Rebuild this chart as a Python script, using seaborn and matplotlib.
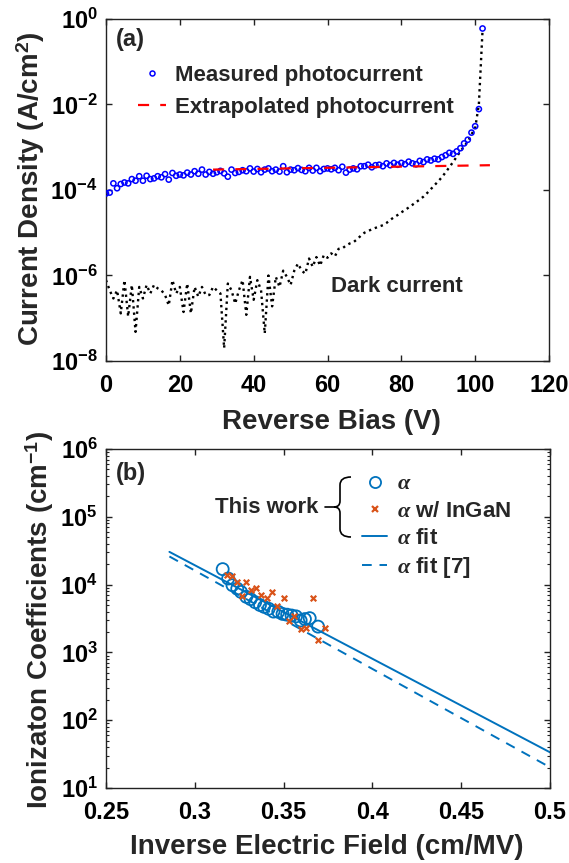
import numpy as np
import matplotlib
matplotlib.use("Agg")
import matplotlib.pyplot as plt
import seaborn as sns
from matplotlib.lines import Line2D
from matplotlib.path import Path
from matplotlib.patches import PathPatch
from matplotlib.ticker import FixedLocator, FixedFormatter, LogLocator, NullLocator, StrMethodFormatter

# ---------------- data: panel (a) ----------------
bias_v = np.arange(0, 103)  # reverse bias, 1 V steps

# measured photocurrent (units of 1e-4 A/cm^2), V = 0..102
photo_1e4 = [
    0.83, 0.87, 1.43, 1.10, 1.38, 1.50, 1.43, 1.80, 1.65, 2.10,
    1.65, 2.15, 1.80, 1.87, 2.10, 1.98, 2.35, 1.75, 2.50, 2.15,
    2.30, 2.20, 2.55, 2.30, 2.75, 2.40, 3.00, 2.30, 2.65, 2.40,
    2.60, 2.80, 2.45, 2.05, 3.00, 2.50, 2.65, 2.90, 2.75, 3.20,
    2.70, 3.10, 2.60, 3.00, 3.20, 2.75, 3.00, 2.70, 3.60, 2.60,
    3.00, 2.90, 3.25, 2.95, 2.75, 3.30, 2.85, 3.30, 2.75, 3.10,
    3.20, 3.05, 3.30, 2.90, 3.50, 2.55, 3.00, 3.20, 3.05, 3.60,
    3.60, 3.90, 3.40, 3.80, 3.90, 3.60, 4.20, 3.80, 4.30, 3.90,
    4.30, 4.00, 4.60, 4.20, 4.00, 4.80, 4.50, 5.20, 4.90, 5.40,
    5.20, 5.90, 6.50, 7.40, 7.00, 8.00, 9.50, 12.3, 15.0, 22.0,
    31.0, 78.0, 6000.0,
]

# dark current (A/cm^2), V = 0..102
dark = [
    7.8e-7, 4.5e-7, 2.9e-7, 4.5e-7, 1.3e-7, 7.8e-7, 1.1e-7, 6.0e-7, 4.8e-8, 5.4e-7,
    2.9e-7, 6.0e-7, 3.8e-7, 6.0e-7, 5.0e-7, 4.5e-7, 3.5e-7, 2.0e-7, 7.8e-7, 3.8e-7,
    5.4e-7, 1.4e-7, 6.5e-7, 1.3e-7, 5.4e-7, 3.2e-7, 5.4e-7, 3.5e-7, 3.5e-7, 5.4e-7,
    4.5e-7, 3.8e-7, 2.0e-8, 6.5e-7, 4.5e-7, 2.2e-7, 4.5e-7, 7.8e-7, 1.2e-7, 9.3e-7,
    2.7e-7, 7.8e-7, 4.5e-7, 4.4e-8, 1.0e-6, 1.9e-7, 9.3e-7, 5.4e-7, 1.3e-6, 9.3e-7,
    6.0e-7, 1.3e-6, 1.9e-6, 1.3e-6, 1.1e-6, 2.5e-6, 1.6e-6, 2.7e-6, 1.7e-6, 3.0e-6,
    2.6e-6, 3.3e-6, 2.8e-6, 4.2e-6, 4.3e-6, 5.0e-6, 5.6e-6, 6.0e-6, 7.0e-6, 8.5e-6,
    1.0e-5, 1.1e-5, 1.2e-5, 1.3e-5, 1.4e-5, 1.5e-5, 1.7e-5, 2.0e-5, 2.3e-5, 2.6e-5,
    3.0e-5, 3.4e-5, 3.9e-5, 4.5e-5, 5.2e-5, 6.0e-5, 7.0e-5, 8.5e-5, 1.05e-4, 1.3e-4,
    1.6e-4, 2.0e-4, 2.6e-4, 3.4e-4, 4.5e-4, 6.0e-4, 8.0e-4, 1.05e-3, 1.35e-3, 2.0e-3,
    2.8e-3, 1.0e-2, 0.55,
]

# extrapolated photocurrent (end points of the fit line)
extrap_v = [29, 104]
extrap_j = [3.0e-4, 3.8e-4]

# ---------------- data: panel (b) ----------------
alpha_x = [0.3157, 0.3188, 0.3212, 0.3239, 0.3260, 0.3290, 0.3314, 0.3340, 0.3367, 0.3390,
           0.3416, 0.3443, 0.3470, 0.3494, 0.3520, 0.3545, 0.3570, 0.3596, 0.3620, 0.3647,
           0.3694]
alpha_y = [1.69e4, 1.23e4, 9.8e3, 8.7e3, 7.8e3, 6.6e3, 6.1e3, 5.5e3, 5.0e3, 4.7e3,
           4.4e3, 4.0e3, 3.97e3, 3.7e3, 3.6e3, 3.5e3, 3.4e3, 2.96e3, 3.1e3, 3.2e3,
           2.4e3]

ingan_x = [0.3179, 0.3207, 0.3235, 0.3263, 0.3290, 0.3319, 0.3347, 0.3375, 0.3406, 0.3436,
           0.3462, 0.3500, 0.3529, 0.3560, 0.3598, 0.3626, 0.3663, 0.3696, 0.3734]
ingan_y = [1.37e4, 1.34e4, 1.09e4, 6.9e3, 1.09e4, 8.2e3, 8.9e3, 7.0e3, 6.3e3, 7.9e3,
           4.8e3, 6.3e3, 2.9e3, 3.4e3, 2.2e3, 2.3e3, 6.3e3, 1.5e3, 2.3e3]

fit_x = [0.2857, 0.5]
fit_y = [3.04e4, 33.6]
fit7_x = [0.2857, 0.5]
fit7_y = [2.6e4, 20.2]

# ---------------- style ----------------
sns.set_theme(style="ticks")
plt.rcParams["font.family"] = ["Liberation Sans", "DejaVu Sans"]
plt.rcParams["font.weight"] = "bold"
plt.rcParams["axes.labelweight"] = "bold"
plt.rcParams["mathtext.fontset"] = "custom"
plt.rcParams["mathtext.rm"] = "Liberation Sans:bold"
plt.rcParams["mathtext.bf"] = "Liberation Sans:bold"
plt.rcParams["mathtext.it"] = "Liberation Serif:italic"
plt.rcParams["axes.linewidth"] = 1.0
plt.rcParams["axes.edgecolor"] = "#222222"

TICK = 17
LAB = 20
LEG = 16

fig = plt.figure(figsize=(5.69, 8.63), dpi=100)
W, H = 569.0, 863.0


def px_axes(l, t, r, b):
    return fig.add_axes([l / W, 1 - b / H, (r - l) / W, (b - t) / H])


ax1 = px_axes(106, 19, 549, 361)
ax2 = px_axes(106, 449, 550, 788)

for ax in (ax1, ax2):
    ax.set_facecolor("white")
    ax.tick_params(which="both", direction="in", top=True, right=True,
                   labelsize=TICK, colors="#222222", labelcolor="black")
    ax.tick_params(which="major", length=4, width=1.0)
    ax.tick_params(which="minor", length=2, width=0.8)
    ax.tick_params(axis="x", pad=9)
    ax.tick_params(axis="y", pad=6)

# ---------------- panel (a) ----------------
ax1.set_yscale("log")
photo = [p * 1e-4 for p in photo_1e4]

sns.lineplot(x=bias_v, y=dark, ax=ax1, color="black", linestyle=":",
             linewidth=1.7, estimator=None, sort=False)
sns.scatterplot(x=bias_v, y=photo, ax=ax1, marker="o", s=14,
                facecolor="none", edgecolor="blue", linewidth=1.1, zorder=3)
sns.lineplot(x=extrap_v, y=extrap_j, ax=ax1, color="red", linestyle=(0, (5, 5)),
             linewidth=1.6, estimator=None, sort=False, zorder=4)

ax1.set_xlim(0, 120)
ax1.set_ylim(1e-8, 1)
ax1.set_xticks([0, 20, 40, 60, 80, 100, 120])
ax1.yaxis.set_major_locator(FixedLocator([1e-8, 1e-6, 1e-4, 1e-2, 1]))
ax1.yaxis.set_major_formatter(FixedFormatter([r"$\mathbf{10^{-8}}$", r"$\mathbf{10^{-6}}$",
                                              r"$\mathbf{10^{-4}}$", r"$\mathbf{10^{-2}}$",
                                              r"$\mathbf{10^{0}}$"]))
ax1.yaxis.set_minor_locator(NullLocator())

ax1.set_xlabel("Reverse Bias (V)", fontsize=LAB, va="center")
ax1.xaxis.set_label_coords(0.51, -0.178)
ax1.set_ylabel(r"Current Density (A/cm$^{\mathbf{2}}$)", fontsize=LAB, va="center")
ax1.yaxis.set_label_coords(-0.169, 0.503)

ax1.text(0.022, 0.94, "(a)", transform=ax1.transAxes, fontsize=17, va="center", ha="left")
ax1.text(61, 5.5e-7, "Dark current", fontsize=LEG, va="center", ha="left")

h1 = [Line2D([], [], marker="o", linestyle="none", markersize=3.6, markerfacecolor="none",
             markeredgecolor="blue", markeredgewidth=1.1),
      Line2D([], [], color="red", linestyle=(0, (5, 5)), linewidth=1.6)]
leg1 = ax1.legend(h1, ["Measured photocurrent", "Extrapolated photocurrent"],
                  loc="upper left", bbox_to_anchor=(0.072, 0.866), frameon=False,
                  borderpad=0, borderaxespad=0, handlelength=1.25, handletextpad=0.4,
                  labelspacing=0.5, prop={"size": LEG, "weight": "bold"})

# ---------------- panel (b) ----------------
blue = "#0072BD"
orange = "#D95319"
ax2.set_yscale("log")

sns.lineplot(x=fit_x, y=fit_y, ax=ax2, color=blue, linewidth=1.4, estimator=None, sort=False)
sns.lineplot(x=fit7_x, y=fit7_y, ax=ax2, color=blue, linewidth=1.4, linestyle=(0, (5, 4)),
             estimator=None, sort=False)
sns.scatterplot(x=alpha_x, y=alpha_y, ax=ax2, marker="o", s=75, facecolor="none",
                edgecolor=blue, linewidth=1.3, zorder=3)
sns.scatterplot(x=ingan_x, y=ingan_y, ax=ax2, marker="x", s=16, color=orange,
                linewidth=1.6, zorder=4)

ax2.set_xlim(0.25, 0.5)
ax2.set_ylim(10, 1e6)
ax2.set_xticks([0.25, 0.3, 0.35, 0.4, 0.45, 0.5])
ax2.xaxis.set_major_formatter(StrMethodFormatter("{x:g}"))
ax2.yaxis.set_major_locator(FixedLocator([1e1, 1e2, 1e3, 1e4, 1e5, 1e6]))
ax2.yaxis.set_major_formatter(FixedFormatter([r"$\mathbf{10^{1}}$", r"$\mathbf{10^{2}}$",
                                              r"$\mathbf{10^{3}}$", r"$\mathbf{10^{4}}$",
                                              r"$\mathbf{10^{5}}$", r"$\mathbf{10^{6}}$"]))
ax2.yaxis.set_minor_locator(LogLocator(base=10, subs=np.arange(2, 10), numticks=20))
ax2.xaxis.set_minor_locator(NullLocator())

ax2.set_xlabel("Inverse Electric Field (cm/MV)", fontsize=LAB, va="center")
ax2.xaxis.set_label_coords(0.498, -0.174)
ax2.set_ylabel(r"Ionizaton Coefficients (cm$^{\mathbf{-1}}$)", fontsize=LAB, va="center")
ax2.yaxis.set_label_coords(-0.149, 0.496)

ax2.text(0.022, 0.927, "(b)", transform=ax2.transAxes, fontsize=17, va="center", ha="left")

h2 = [Line2D([], [], marker="o", linestyle="none", markersize=8, markerfacecolor="none",
             markeredgecolor=blue, markeredgewidth=1.3),
      Line2D([], [], marker="x", linestyle="none", markersize=4, color=orange,
             markeredgewidth=1.6),
      Line2D([], [], color=blue, linewidth=1.4),
      Line2D([], [], color=blue, linewidth=1.4, linestyle=(0, (5, 4)))]
leg2 = ax2.legend(h2, [r"$\alpha$", r"$\alpha$ w/ InGaN", r"$\alpha$ fit", r"$\alpha$ fit [7]"],
                  loc="upper left", bbox_to_anchor=(0.576, 0.928), frameon=False,
                  borderpad=0, borderaxespad=0, handlelength=1.15, handletextpad=0.45,
                  labelspacing=0.28, prop={"size": LEG, "weight": "bold"})

# "This work" brace
def fp(x, y):
    return (x / W, 1 - y / H)

verts = [fp(351, 477), fp(340, 477), fp(340, 485), fp(340, 501), fp(340, 507), fp(334, 507),
         fp(340, 507), fp(340, 513), fp(340, 529), fp(340, 537), fp(351, 537)]
codes = [Path.MOVETO, Path.CURVE3, Path.CURVE3, Path.LINETO, Path.CURVE3, Path.CURVE3,
         Path.CURVE3, Path.CURVE3, Path.LINETO, Path.CURVE3, Path.CURVE3]
fig.patches.append(PathPatch(Path(verts, codes), transform=fig.transFigure,
                             facecolor="none", edgecolor="black", linewidth=1.2))
fig.lines.append(Line2D([325 / W, 334 / W], [1 - 507 / H, 1 - 507 / H],
                        transform=fig.transFigure, color="black", linewidth=1.2))
fig.text(318 / W, 1 - 507 / H, "This work", fontsize=LEG, ha="right", va="center")

fig.savefig("out.png", dpi=100, facecolor="white")
